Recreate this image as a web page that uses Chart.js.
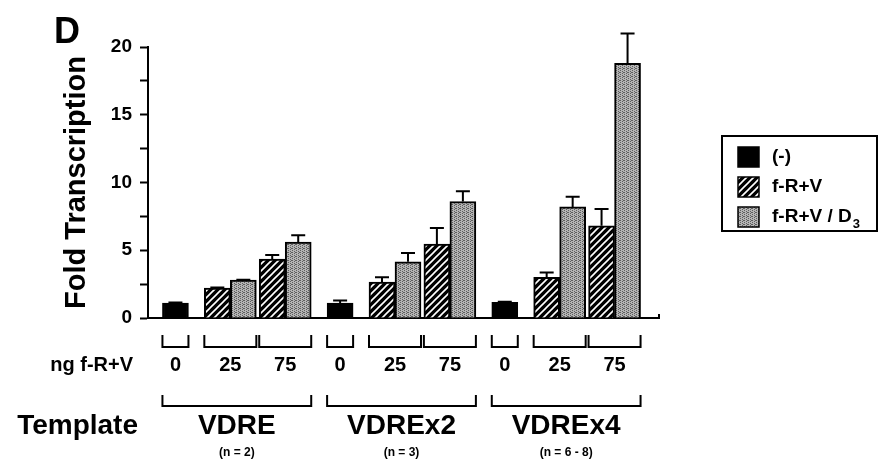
<!DOCTYPE html>
<html>
<head>
<meta charset="utf-8">
<title>Fold Transcription</title>
<script src="https://cdn.jsdelivr.net/npm/chart.js@4.4.1/dist/chart.umd.min.js"></script>
<style>
    html, body { margin: 0; padding: 0; background: #fff; }
    .chart-container { position: relative; width: 879px; height: 460px; }
</style>
</head>
<body>
<div class="chart-container">
    <canvas id="foldChart"></canvas>
</div>
<script>
// ng f-R+V per bar group, three groups per template
const doseLabels = ['0', '25', '75', '0', '25', '75', '0', '25', '75'];
const templates = ['VDRE', 'VDREx2', 'VDREx4'];
const templateCounts = ['(n = 2)', '(n = 3)', '(n = 6 - 8)'];
const yTickLabels = [0, 5, 10, 15, 20];

// fold transcription (mean) and upper error
const controlValues = [1.1, null, null, 1.1, null, null, 1.15, null, null];
const controlErrors = [0.05, null, null, 0.2, null, null, 0.05, null, null];
const frvValues = [null, 2.2, 4.35, null, 2.65, 5.45, null, 3.0, 6.8];
const frvErrors = [null, 0.05, 0.3, null, 0.35, 1.2, null, 0.35, 1.25];
const d3Values = [null, 2.8, 5.6, null, 4.15, 8.6, null, 8.2, 18.8];
const d3Errors = [null, 0.03, 0.5, null, 0.65, 0.75, null, 0.75, 2.2];

const BAR_WIDTH = 26;
const FONT = '"Liberation Sans", Arial, Helvetica, sans-serif';

/**
 * Black fill with thin white "/" stripes
 * @returns {CanvasPattern}
 */
function makeHatch() {
    const tile = document.createElement('canvas');
    tile.width = 7;
    tile.height = 7;
    const g = tile.getContext('2d');
    g.fillStyle = '#000';
    g.fillRect(0, 0, 7, 7);
    g.strokeStyle = '#fff';
    g.lineWidth = 1.6;
    g.beginPath();
    for (const o of [-7, 0, 7]) {
        g.moveTo(o - 1, 8);
        g.lineTo(o + 8, -1);
    }
    g.stroke();
    return g.createPattern(tile, 'repeat');
}

/**
 * Fine grey stipple
 * @returns {CanvasPattern}
 */
function makeStipple() {
    const tile = document.createElement('canvas');
    tile.width = 4;
    tile.height = 4;
    const g = tile.getContext('2d');
    g.fillStyle = '#b4b4b4';
    g.fillRect(0, 0, 4, 4);
    g.fillStyle = '#5e5e5e';
    [[0, 0], [2, 1], [0, 2], [2, 3], [3, 0]].forEach(([x, y]) => g.fillRect(x, y, 1, 1));
    return g.createPattern(tile, 'repeat');
}

const hatch = makeHatch();
const stipple = makeStipple();
const errorSets = [controlErrors, frvErrors, d3Errors];

// Upward error bars with caps
const errorBarPlugin = {
    id: 'errorBars',
    afterDatasetsDraw(chart) {
        const { ctx, scales: { y } } = chart;
        ctx.save();
        ctx.strokeStyle = '#000';
        ctx.lineWidth = 2;
        chart.data.datasets.forEach((ds, di) => {
            const meta = chart.getDatasetMeta(di);
            meta.data.forEach((bar, i) => {
                const v = ds.data[i];
                const e = errorSets[di][i];
                if (v == null || e == null) return;
                const top = y.getPixelForValue(v + e);
                ctx.beginPath();
                ctx.moveTo(bar.x, bar.y);
                ctx.lineTo(bar.x, top);
                ctx.moveTo(bar.x - 7, top);
                ctx.lineTo(bar.x + 7, top);
                ctx.stroke();
            });
        });
        ctx.restore();
    }
};

function bracket(ctx, x1, x2, yTop, yBottom) {
    ctx.beginPath();
    ctx.moveTo(x1, yTop);
    ctx.lineTo(x1, yBottom);
    ctx.lineTo(x2, yBottom);
    ctx.lineTo(x2, yTop);
    ctx.stroke();
}

// Brackets, template names, panel letter and the boxed legend
const figureLabelsPlugin = {
    id: 'figureLabels',
    afterDraw(chart) {
        const { ctx, chartArea, scales: { x } } = chart;
        const base = chartArea.bottom;
        const datasets = chart.data.datasets;
        const barsAt = (i) => datasets.filter(ds => ds.data[i] != null).length;
        const edges = (i) => {
            const cx = x.getPixelForValue(i);
            const half = barsAt(i) * BAR_WIDTH / 2;
            return [cx - half, cx + half];
        };

        ctx.save();
        ctx.strokeStyle = '#000';
        ctx.fillStyle = '#000';
        ctx.lineWidth = 2;

        // x axis runs a little past the last bar
        ctx.beginPath();
        ctx.moveTo(chartArea.right - 1, base);
        ctx.lineTo(chartArea.right + 17, base);
        ctx.lineTo(chartArea.right + 17, base - 4);
        ctx.stroke();

        doseLabels.forEach((_, i) => {
            const [l, r] = edges(i);
            bracket(ctx, l, r, base + 17, base + 29);
        });

        templates.forEach((name, t) => {
            const l = edges(t * 3)[0];
            const r = edges(t * 3 + 2)[1];
            bracket(ctx, l, r, base + 77, base + 88);
            const cx = (l + r) / 2;
            ctx.textAlign = 'center';
            ctx.textBaseline = 'alphabetic';
            ctx.font = `bold 28px ${FONT}`;
            ctx.fillText(name, cx, base + 116);
            ctx.font = `bold 12px ${FONT}`;
            ctx.fillText(templateCounts[t], cx, base + 138);
        });

        ctx.textAlign = 'right';
        ctx.textBaseline = 'middle';
        ctx.font = `bold 20px ${FONT}`;
        ctx.fillText('ng f-R+V', chartArea.left - 15, base + 47);
        ctx.textBaseline = 'alphabetic';
        ctx.font = `bold 28px ${FONT}`;
        ctx.fillText('Template', chartArea.left - 10, base + 116);

        ctx.textAlign = 'left';
        ctx.font = `bold 36px ${FONT}`;
        ctx.fillText('D', 54, 43);

        // legend
        const box = { left: 722, top: 136, width: 155, height: 95 };
        ctx.strokeRect(box.left, box.top, box.width, box.height);
        datasets.forEach((ds, i) => {
            const cy = box.top + 21 + i * 30;
            ctx.fillStyle = ds.backgroundColor;
            ctx.fillRect(box.left + 16, cy - 10, 21, 20);
            ctx.lineWidth = 1.5;
            ctx.strokeRect(box.left + 16, cy - 10, 21, 20);
            ctx.fillStyle = '#000';
            ctx.textBaseline = 'middle';
            const parts = ds.label.split('₃');
            ctx.font = `bold 19px ${FONT}`;
            ctx.fillText(parts[0], box.left + 50, cy);
            if (parts.length > 1) {
                const w = ctx.measureText(parts[0]).width;
                ctx.font = `bold 13px ${FONT}`;
                ctx.fillText('3', box.left + 51 + w, cy + 7);
            }
        });
        ctx.restore();
    }
};

const ctx = document.getElementById('foldChart').getContext('2d');
new Chart(ctx, {
    type: 'bar',
    data: {
        labels: doseLabels,
        datasets: [
            { label: '(-)', data: controlValues, backgroundColor: '#000' },
            { label: 'f-R+V', data: frvValues, backgroundColor: hatch },
            { label: 'f-R+V / D₃', data: d3Values, backgroundColor: stipple }
        ]
    },
    options: {
        responsive: true,
        maintainAspectRatio: false,
        animation: false,
        layout: {
            padding: { top: 47, right: 237, bottom: 0, left: 0 }
        },
        datasets: {
            bar: {
                skipNull: true,
                barThickness: BAR_WIDTH,
                borderColor: '#000',
                borderWidth: 2
            }
        },
        plugins: {
            legend: { display: false },
            tooltip: { enabled: false }
        },
        scales: {
            x: {
                afterFit: (scale) => { scale.height = 142; },
                grid: { display: false, drawTicks: false },
                border: { display: true, color: '#000', width: 2 },
                ticks: {
                    autoSkip: false,
                    maxRotation: 0,
                    padding: 35,
                    color: '#000',
                    font: { family: FONT, size: 20, weight: 'bold' }
                }
            },
            y: {
                min: 0,
                max: 20,
                afterFit: (scale) => { scale.width = 148; },
                grid: {
                    drawOnChartArea: false,
                    drawTicks: true,
                    tickLength: 8,
                    tickColor: '#000',
                    tickWidth: 2
                },
                border: { display: true, color: '#000', width: 2 },
                ticks: {
                    stepSize: 2.5,
                    padding: 8,
                    color: '#000',
                    font: { family: FONT, size: 19, weight: 'bold' },
                    callback: (value) => yTickLabels.includes(value) ? value : ''
                },
                title: {
                    display: true,
                    text: 'Fold Transcription',
                    color: '#000',
                    padding: { top: 60, bottom: 0 },
                    font: { family: FONT, size: 29, weight: 'bold' }
                }
            }
        }
    },
    plugins: [errorBarPlugin, figureLabelsPlugin]
});
</script>
</body>
</html>
